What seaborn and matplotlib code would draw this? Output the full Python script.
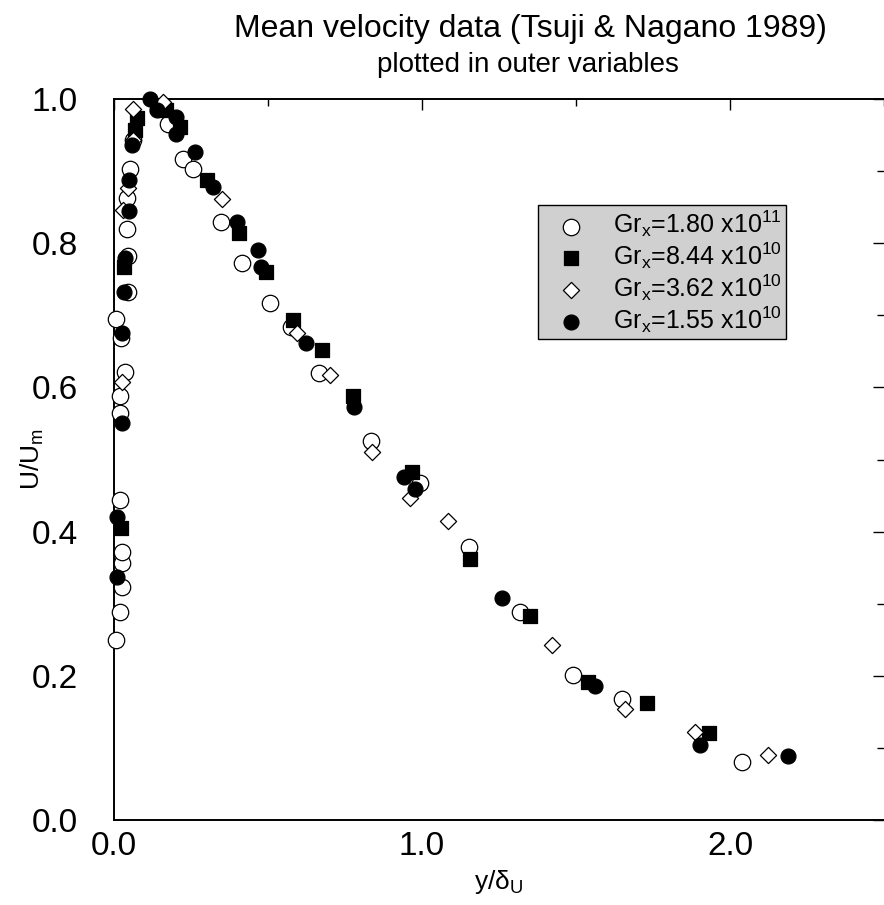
import numpy as np
import pandas as pd
import matplotlib
matplotlib.use("Agg")
import matplotlib.pyplot as plt
import seaborn as sns
from matplotlib.ticker import MultipleLocator, FormatStrFormatter

# Gr_x = 1.80e11 (open circles)
x_180 = [0.006, 0.02, 0.026, 0.026, 0.026, 0.02, 0.02, 0.02, 0.036, 0.023, 0.006,
         0.045, 0.045, 0.042, 0.042, 0.052, 0.062, 0.175, 0.224, 0.258, 0.347,
         0.414, 0.506, 0.575, 0.664, 0.834, 0.994, 1.154, 1.318, 1.49, 1.649, 2.04]
y_180 = [0.250, 0.288, 0.323, 0.356, 0.372, 0.444, 0.564, 0.588, 0.621, 0.668, 0.695,
         0.733, 0.782, 0.820, 0.863, 0.903, 0.943, 0.966, 0.917, 0.903, 0.829,
         0.773, 0.717, 0.684, 0.620, 0.526, 0.467, 0.379, 0.289, 0.201, 0.168, 0.080]

# Gr_x = 8.44e10 (filled squares)
x_844 = [0.022, 0.032, 0.068, 0.075, 0.14, 0.17, 0.214, 0.303, 0.405, 0.495, 0.581,
         0.675, 0.776, 0.968, 1.156, 1.351, 1.539, 1.73, 1.932]
y_844 = [0.405, 0.767, 0.957, 0.974, 0.99, 0.985, 0.961, 0.888, 0.814, 0.760, 0.694,
         0.652, 0.588, 0.483, 0.362, 0.283, 0.191, 0.162, 0.121]

# Gr_x = 3.62e10 (open diamonds)
x_362 = [0.025, 0.029, 0.045, 0.062, 0.062, 0.16, 0.352, 0.594, 0.701, 0.838, 0.961,
         1.084, 1.422, 1.659, 1.886, 2.123]
y_362 = [0.607, 0.846, 0.876, 0.943, 0.986, 0.996, 0.861, 0.675, 0.617, 0.510, 0.447,
         0.415, 0.243, 0.154, 0.122, 0.090]

# Gr_x = 1.55e10 (filled circles)
x_155 = [0.01, 0.01, 0.025, 0.025, 0.032, 0.036, 0.049, 0.049, 0.058, 0.117, 0.14,
         0.2, 0.2, 0.263, 0.32, 0.399, 0.466, 0.476, 0.624, 0.778, 0.942, 0.977,
         1.26, 1.562, 1.903, 2.188]
y_155 = [0.337, 0.420, 0.551, 0.675, 0.733, 0.780, 0.844, 0.888, 0.936, 1.0, 0.985,
         0.975, 0.952, 0.926, 0.878, 0.829, 0.790, 0.767, 0.662, 0.573, 0.476, 0.459,
         0.308, 0.186, 0.104, 0.089]

labels = [r"Gr$_\mathrm{x}$=1.80 x10$^{11}\hspace{0.6}$",
          r"Gr$_\mathrm{x}$=8.44 x10$^{10}\hspace{0.6}$",
          r"Gr$_\mathrm{x}$=3.62 x10$^{10}\hspace{0.6}$",
          r"Gr$_\mathrm{x}$=1.55 x10$^{10}\hspace{0.6}$"]

series = [(x_180, y_180, "o", "white", 140),
          (x_844, y_844, "s", "black", 105),
          (x_362, y_362, "D", "white", 68),
          (x_155, y_155, "o", "black", 115)]

sns.set_style("white")
plt.rcParams["font.family"] = ["Liberation Sans", "DejaVu Sans"]
plt.rcParams["mathtext.fontset"] = "custom"
plt.rcParams["mathtext.rm"] = "Liberation Sans"
plt.rcParams["mathtext.it"] = "Liberation Sans:italic"
plt.rcParams["text.color"] = "black"
plt.rcParams["axes.labelcolor"] = "black"

fig = plt.figure(figsize=(8.84, 9.05), dpi=100)
ax = fig.add_axes([0.129, 0.0939, 0.871, 0.7967])

for (xs, ys, mk, fc, s), lab in zip(series, labels):
    df = pd.DataFrame({"x": xs, "y": ys})
    sns.scatterplot(data=df, x="x", y="y", marker=mk, s=s, facecolor=fc,
                    edgecolor="black", linewidth=0.9, label=lab, ax=ax,
                    clip_on=False, zorder=3)

ax.set_xlim(0, 2.5)
ax.set_ylim(0, 1.0)
ax.xaxis.set_major_locator(MultipleLocator(1.0))
ax.xaxis.set_minor_locator(MultipleLocator(0.5))
ax.yaxis.set_major_locator(MultipleLocator(0.2))
ax.yaxis.set_minor_locator(MultipleLocator(0.1))
ax.xaxis.set_major_formatter(FormatStrFormatter("%.1f"))
ax.yaxis.set_major_formatter(FormatStrFormatter("%.1f"))
ax.tick_params(which="both", direction="in", top=True, right=True,
               colors="black", width=1.0)
ax.tick_params(which="major", length=8, labelsize=24)
ax.tick_params(axis="x", which="major", pad=8)
ax.tick_params(axis="y", which="major", pad=26)
ax.tick_params(which="minor", length=5)

for side in ["left", "bottom", "top"]:
    ax.spines[side].set_color("black")
    ax.spines[side].set_linewidth(1.4)
ax.spines["right"].set_visible(False)

ax.set_xlabel("y/δ$_\\mathrm{U}$", fontsize=19, labelpad=4)
ax.set_ylabel("U/U$_\\mathrm{m}$", fontsize=19)
ax.yaxis.set_label_coords(-0.088, 0.5)

leg = ax.legend(loc="upper left", bbox_to_anchor=(0.551, 0.853), fontsize=18,
                frameon=True, fancybox=False, framealpha=1, facecolor="#d0d0d0",
                edgecolor="black", handletextpad=0.55, labelspacing=0.05,
                borderpad=0.15, handlelength=2.3, borderaxespad=0)
leg.get_frame().set_linewidth(1.0)

fig.text(0.6, 0.968, "Mean velocity data (Tsuji & Nagano 1989)", ha="center",
         va="center", fontsize=23)
fig.text(0.597, 0.928, "plotted in outer variables", ha="center", va="center",
         fontsize=20)

fig.savefig("out.png", dpi=100)
